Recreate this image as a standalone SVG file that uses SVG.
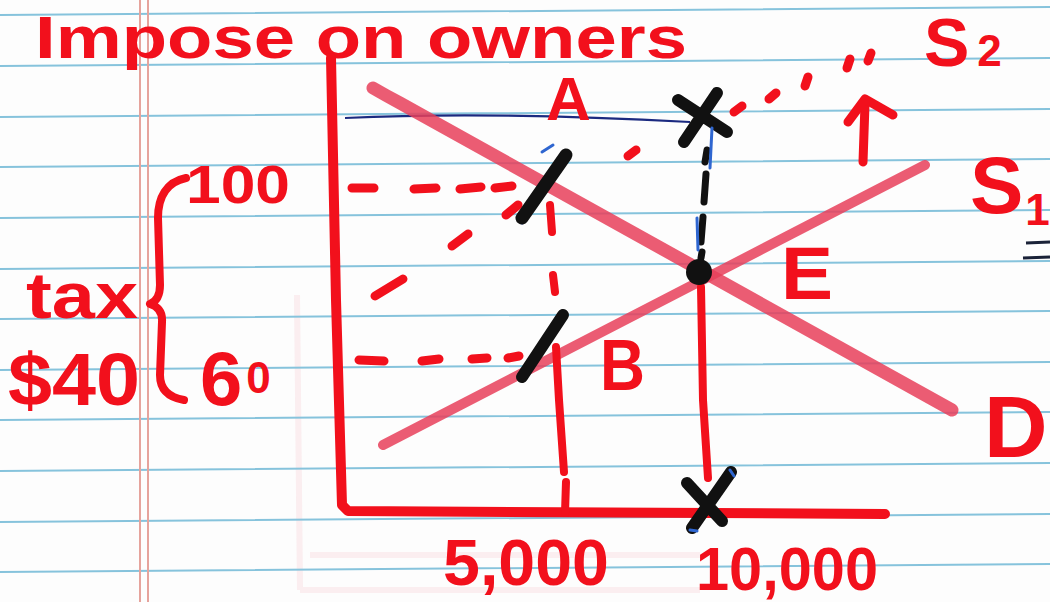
<svg xmlns="http://www.w3.org/2000/svg" width="1050" height="602" viewBox="0 0 1050 602">
<style>
.rule{stroke:#86c3dc;stroke-width:2;fill:none}
.margin{stroke:#e6a39c;stroke-width:2;fill:none}
.ink{stroke:#f2101c;fill:none;stroke-linecap:round;stroke-linejoin:round}
.curve{stroke:#e8405a;fill:none;stroke-linecap:round;opacity:0.85}
.blk{stroke:#111;fill:none;stroke-linecap:round}
.t{font-family:"Liberation Sans",Arial,sans-serif;font-weight:bold;fill:#f2101c}
.ghost{stroke:#f6d2d6;fill:none;stroke-width:6;opacity:0.35}
</style>
<rect width="1050" height="602" fill="#fdfdfd"/>
<g id="paper">
<path class="ghost" d="M297,295 L300,590 M310,555 L700,555 M300,590 L700,590"/>
<path class="rule" d="M0,15 L1050,7 M0,66 L1050,58 M0,117 L1050,109 M0,167 L1050,159 M0,218 L1050,210 M0,269 L1050,261 M0,319 L1050,311 M0,370 L1050,362 M0,420 L1050,412 M0,471 L1050,463 M0,522 L1050,514 M0,572 L1050,564"/>
<path class="margin" d="M140,0 L140,602 M148,0 L148,602"/>
</g>
<text id="title" class="t" x="35" y="58" font-size="60" textLength="652" lengthAdjust="spacingAndGlyphs">Impose on owners</text>
<g id="axes">
<path class="ink" stroke-width="10" d="M331,58 L336,300 L342,505 L348,511 L885,514"/>
</g>
<g id="connectors">
<path id="blue-line" d="M345,118 C450,113 560,115 690,122" stroke="#1b2a80" stroke-width="2.2" fill="none"/>
<path id="demand" class="curve" stroke-width="13" d="M373,88 Q385,95 400,103 L952,410"/>
<path id="supply1" class="curve" stroke-width="10" d="M383,445 L925,165"/>
<g id="supply2" class="ink" stroke-width="9">
<path d="M375,296 L403,279"/>
<path d="M452,246 L468,234"/>
<path d="M506,215 L518,205"/>
<path d="M628,156 L636,150"/>
<path d="M734,112 L742,106"/>
<path d="M769,99 L776,93"/>
<path d="M805,86 L808,77"/>
<path d="M847,68 L850,59"/>
<path d="M868,61 L871,53"/>
</g>
<g id="price-dashes" class="ink" stroke-width="9">
<path d="M352,188 L374,188 M414,189 L436,188 M460,189 L481,187 M495,188 L512,186"/>
<path d="M359,360 L384,361 M422,361 L439,359 M472,359 L487,358 M508,358 L519,356"/>
</g>
<g id="qty-lines" class="ink" stroke-width="8">
<path d="M550,205 L552,232"/>
<path d="M553,275 L555,292"/>
<path d="M556,347 L559,400 L564,472"/>
<path d="M566,482 L565,513"/>
<path d="M701,287 L703,400 L708,478"/>
</g>
<g id="arrow" class="ink" stroke-width="9">
<path d="M865,104 L863,162"/>
<path d="M848,122 L865,99 L893,115"/>
</g>
<g id="marks" class="blk">
<path stroke-width="12" d="M678,100 L727,132 M717,93 L684,142"/>
<path stroke-width="7" d="M707,150 L705,162 M706,174 L704,202 M703,217 L701,242 M702,252 L701,258"/>
<path stroke="#2f66d0" stroke-width="3" d="M712,128 L710,168 M697,218 L698,250 M542,152 L553,145 M520,220 L522,223"/>
<ellipse cx="699" cy="272" rx="13" ry="13" fill="#111" stroke="none"/>
<path stroke-width="13" d="M522,218 L566,155"/>
<path stroke-width="12" d="M522,377 L563,315"/>
<path stroke-width="12" d="M687,483 L722,521 M731,472 L692,528"/>
<path stroke="#2f66d0" stroke-width="3" d="M730,470 L734,476 M690,530 L697,531"/>
</g>
</g>
<g id="labels">
<text class="t" x="546" y="120" font-size="62">A</text>
<text class="t" x="600" y="390" font-size="72" textLength="45" lengthAdjust="spacingAndGlyphs">B</text>
<text class="t" x="781" y="299" font-size="74" textLength="52" lengthAdjust="spacingAndGlyphs">E</text>
<text class="t" x="924" y="66" font-size="68">S<tspan font-size="44" dx="8" dy="0">2</tspan></text>
<text class="t" x="970" y="213" font-size="80">S<tspan font-size="44" dx="2" dy="12">1</tspan></text>
<text class="t" x="984" y="457" font-size="88">D</text>
<path d="M1026,243 L1050,242 M1023,258 L1050,257" stroke="#1a2238" stroke-width="3"/>
<text class="t" x="186" y="203" font-size="54" textLength="104" lengthAdjust="spacingAndGlyphs">100</text>
<text class="t" x="200" y="405" font-size="76">6<tspan font-size="44" dy="-12" dx="4">0</tspan></text>
<text class="t" x="26" y="318" font-size="64" textLength="112" lengthAdjust="spacingAndGlyphs">tax</text>
<text class="t" x="8" y="405" font-size="74" textLength="132" lengthAdjust="spacingAndGlyphs">$40</text>
<path class="ink" stroke-width="8" d="M186,178 C166,182 158,198 158,218 L160,285 Q160,300 150,304 Q163,308 162,322 L160,375 Q160,396 184,400"/>
<text class="t" x="443" y="585" font-size="64" textLength="166" lengthAdjust="spacingAndGlyphs">5,000</text>
<text class="t" x="696" y="590" font-size="62" textLength="182" lengthAdjust="spacingAndGlyphs">10,000</text>
</g>
</svg>
